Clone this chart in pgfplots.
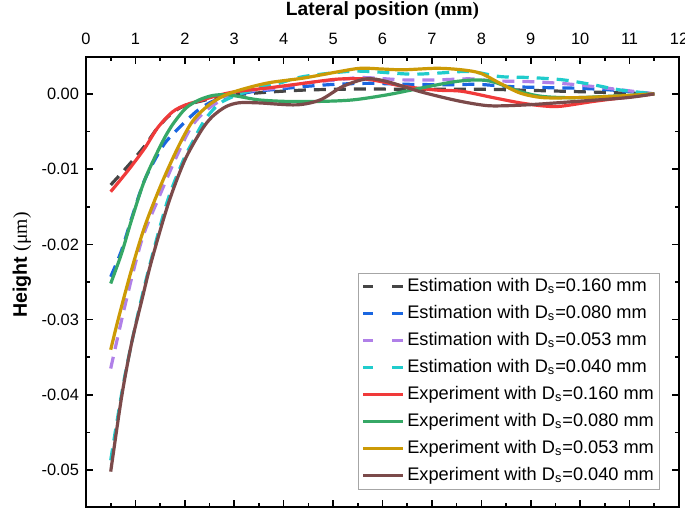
\documentclass[border=0pt]{standalone}
\usepackage{fontspec}
\setmainfont{Liberation Sans}
\newfontfamily\serifont{Liberation Serif}
\usepackage{pgfplots}
\pgfplotsset{compat=1.18}
\definecolor{cgray}{HTML}{454545}
\definecolor{cblue}{HTML}{1A66E0}
\definecolor{cpurple}{HTML}{B080E8}
\definecolor{ccyan}{HTML}{20CCCC}
\definecolor{cred}{HTML}{F03A3A}
\definecolor{cgreen}{HTML}{36A866}
\definecolor{cgold}{HTML}{CC9A06}
\definecolor{cbrown}{HTML}{7B4A4A}
\pgfplotsset{
  est/.style={line width=1.6pt, smooth, dash pattern=on 6pt off 4pt,
    legend image code/.code={\draw[##1,dash pattern=on 5pt off 9.5pt on 5.5pt off 1pt] (0pt,0pt) -- (20pt,0pt);}},
  exp/.style={line width=1.6pt, smooth,
    legend image code/.code={\draw[##1] (0pt,0pt) -- (20pt,0pt);}},
}
\begin{document}
\begin{tikzpicture}
\begin{axis}[name=ax, scale only axis, width=296.5pt, height=225pt,
  xmin=0, xmax=12, ymin=-0.0549, ymax=0.0049,
  xtick={0,1,2,3,4,5,6,7,8,9,10,11,12}, minor x tick num=1,
  ytick={-0.05,-0.04,-0.03,-0.02,-0.01,0}, minor y tick num=1,
  scaled y ticks=false, scaled x ticks=false,
  xticklabel pos=upper,
  tick align=inside,
  major tick length=3.5pt, minor tick length=2pt,
  every tick/.style={line width=0.8pt, black},
  axis line style={line width=1pt},
  yticklabel style={/pgf/number format/.cd, fixed, fixed zerofill, precision=2, assume math mode=true},
  xticklabel style={/pgf/number format/assume math mode=true, yshift=2.5pt},
  font=\fontsize{8.5}{10}\selectfont,
  tick label style={font=\fontsize{8.2}{9.8}\selectfont},
  xlabel={\bfseries Lateral position {\serifont (mm)}},
  ylabel={\textbf{Height} {\serifont (μm)}},
  xlabel style={at={(axis description cs:0.5,1.104)}, anchor=center, font=\fontsize{9.6}{11}\selectfont},
  ylabel style={at={(axis description cs:-0.108,0.538)}, anchor=center, font=\fontsize{9.8}{11}\selectfont},
  legend cell align=left,
  legend style={at={(rel axis cs:0.968,0.038)}, anchor=south east, draw=gray!70, line width=0.5pt,
    font=\fontsize{9.1}{11}\selectfont, row sep=1.4pt, inner xsep=1.5pt, inner ysep=0.8pt,
    nodes={inner xsep=1.3pt}},
]
\addplot[est, color=cgray] coordinates {(0.50,-0.0121) (0.86,-0.0095) (1.19,-0.0069) (1.45,-0.0045) (1.75,-0.0025) (2.02,-0.0015) (2.36,-0.0009) (2.70,-0.0004) (3.24,0.0000) (3.84,0.0003) (4.40,0.0005) (5.00,0.0006) (5.60,0.00065) (6.42,0.00062) (7.44,0.00062) (8.20,0.0006) (8.79,0.0005) (9.93,0.0003) (10.95,0.0001) (11.50,0)};
\addlegendentry{Estimation with D\textsubscript{s}=0.160 mm}
\addplot[est, color=cblue] coordinates {(0.50,-0.0243) (0.72,-0.0208) (0.92,-0.0166) (1.19,-0.0114) (1.53,-0.0072) (1.75,-0.0054) (2.23,-0.00235) (2.56,-0.0010) (2.90,-0.00035) (3.37,0.0003) (3.85,0.0006) (4.40,0.00097) (5.07,0.00128) (5.75,0.0014) (6.42,0.00128) (7.44,0.0012) (7.90,0.00128) (8.58,0.00097) (9.25,0.00084) (9.93,0.00075) (10.60,0.00053) (11.50,0)};
\addlegendentry{Estimation with D\textsubscript{s}=0.080 mm}
\addplot[est, color=cpurple] coordinates {(0.50,-0.0365) (0.79,-0.0281) (1.13,-0.0194) (1.46,-0.0140) (1.80,-0.0088) (2.14,-0.0043) (2.49,-0.0019) (2.83,-0.00057) (3.24,0.0003) (3.84,0.00075) (4.40,0.0014) (5.07,0.00186) (5.60,0.00217) (6.42,0.00186) (7.10,0.00186) (7.77,0.0020) (8.24,0.00173) (8.92,0.00164) (9.60,0.0014) (10.27,0.00097) (11.50,0)};
\addlegendentry{Estimation with D\textsubscript{s}=0.053 mm}
\addplot[est, color=ccyan] coordinates {(0.50,-0.0487) (0.62,-0.0438) (0.80,-0.0370) (1.06,-0.0290) (1.30,-0.0225) (1.65,-0.0142) (1.97,-0.0088) (2.14,-0.0066) (2.40,-0.0035) (2.70,-0.0013) (3.04,-0.0002) (3.50,0.0008) (3.90,0.0014) (4.40,0.0023) (5.28,0.00297) (5.75,0.00297) (6.56,0.00262) (7.10,0.00275) (7.77,0.00297) (8.38,0.0023) (8.99,0.00217) (9.66,0.00186) (10.27,0.0012) (10.80,0.00053) (11.50,0)};
\addlegendentry{Estimation with D\textsubscript{s}=0.040 mm}
\addplot[exp, color=cred] coordinates {(0.50,-0.0130) (0.86,-0.0101) (1.19,-0.0072) (1.45,-0.0045) (1.75,-0.0024) (2.02,-0.00146) (2.36,-0.0008) (2.70,-0.00015) (3.04,0.0003) (3.70,0.0008) (4.40,0.0014) (5.07,0.00195) (5.60,0.0020) (6.00,0.0016) (6.42,0.0010) (7.10,0.0005) (7.60,0.00035) (8.24,-0.0005) (8.79,-0.0012) (9.25,-0.0016) (9.60,-0.00165) (10.27,-0.0010) (11.00,-0.0004) (11.50,0)};
\addlegendentry{Experiment with D\textsubscript{s}=0.160 mm}
\addplot[exp, color=cgreen] coordinates {(0.50,-0.0252) (0.72,-0.0212) (0.92,-0.0168) (1.19,-0.0114) (1.53,-0.0066) (1.75,-0.0041) (2.02,-0.0019) (2.29,-0.0008) (2.56,-0.00022) (2.83,-0.0001) (3.10,-0.00035) (3.50,-0.0008) (4.05,-0.0010) (4.74,-0.0010) (5.40,-0.0008) (6.09,-0.00013) (6.76,0.00075) (7.44,0.0016) (7.90,0.00185) (8.24,0.0016) (8.79,0.0003) (9.25,-0.00035) (9.93,-0.0005) (10.95,-0.0002) (11.50,0)};
\addlegendentry{Experiment with D\textsubscript{s}=0.080 mm}
\addplot[exp, color=cgold] coordinates {(0.50,-0.0340) (0.65,-0.0300) (0.92,-0.0234) (1.19,-0.0176) (1.53,-0.0119) (1.87,-0.0070) (2.16,-0.0036) (2.49,-0.00146) (2.83,-0.00013) (3.24,0.00075) (3.72,0.0015) (4.40,0.0021) (5.07,0.0029) (5.55,0.0034) (6.00,0.0033) (6.42,0.0032) (7.10,0.0034) (7.60,0.0032) (7.98,0.00275) (8.38,0.0014) (8.79,0.0001) (9.25,-0.0005) (9.93,-0.0005) (10.60,-0.00035) (11.50,0)};
\addlegendentry{Experiment with D\textsubscript{s}=0.053 mm}
\addplot[exp, color=cbrown] coordinates {(0.50,-0.0502) (0.72,-0.0403) (0.92,-0.0332) (1.13,-0.0274) (1.33,-0.0221) (1.67,-0.0145) (2.00,-0.0088) (2.34,-0.0048) (2.56,-0.0030) (2.83,-0.0017) (3.10,-0.00118) (3.50,-0.0012) (4.26,-0.00146) (4.74,-0.0008) (5.20,0.0010) (5.68,0.0020) (6.09,0.00164) (6.76,0.0003) (7.44,-0.0008) (7.90,-0.00137) (8.24,-0.0016) (8.92,-0.00146) (9.93,-0.0010) (10.95,-0.0005) (11.50,0)};
\addlegendentry{Experiment with D\textsubscript{s}=0.040 mm}
\end{axis}
\pgfresetboundingbox
\path[use as bounding box] ([shift={(-43pt,-1.5pt)}]ax.south west) rectangle ([shift={(3pt,28.5pt)}]ax.north east);
\end{tikzpicture}
\end{document}
